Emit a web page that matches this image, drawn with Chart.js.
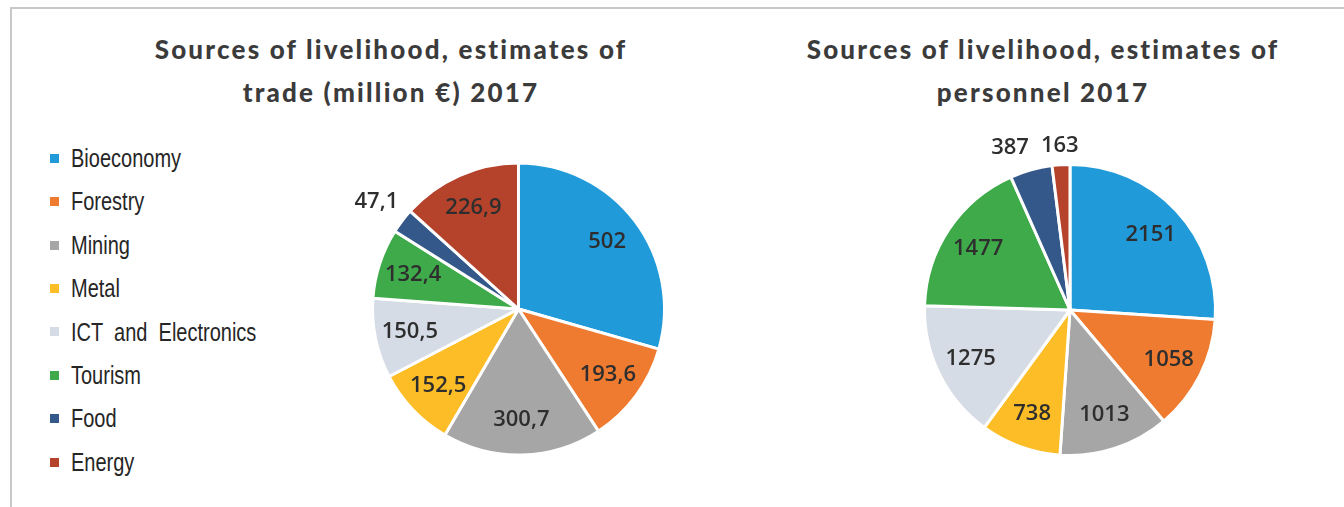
<!DOCTYPE html>
<html>
<head>
<meta charset="utf-8">
<script src="https://cdn.jsdelivr.net/npm/chart.js@4.4.1/dist/chart.umd.min.js"></script>
<style>
  html, body { margin: 0; padding: 0; background: #fff; }
  body { width: 1344px; height: 507px; position: relative; overflow: hidden; }
  #frame {
    position: absolute; left: 10px; top: 7px; width: 1340px; height: 510px;
    border-top: 2px solid #c8c8c8; border-left: 2px solid #c8c8c8;
  }
  .title {
    position: absolute; top: 28px; width: 700px; text-align: center;
    font-family: Lato, "Open Sans", sans-serif; font-weight: 900; font-size: 26px;
    letter-spacing: 2.2px; line-height: 43px; color: #3b3b3b;
  }
  #legend {
    position: absolute; left: 50px; top: 137px; margin: 0; padding: 0; list-style: none;
    font-family: "Liberation Sans", Arial, sans-serif;
    font-size: 25px; color: #262626;
  }
  #legend li { height: 43.4px; line-height: 43.4px; white-space: nowrap; }
  #legend .box {
    display: inline-block; width: 9px; height: 9px; margin-right: 12px; vertical-align: middle;
    position: relative; top: -2px;
  }
  #legend .txt {
    display: inline-block; transform: scaleX(0.8); transform-origin: left center; word-spacing: 7px;
  }
  canvas { position: absolute; top: 0; }
</style>
</head>
<body>
<div id="frame"></div>
<div class="title" style="left: 41px;">Sources of livelihood, estimates of<br>trade (million €) 2017</div>
<div class="title" style="left: 693px;">Sources of livelihood, estimates of<br>personnel 2017</div>
<ul id="legend"></ul>
<canvas id="tradeChart" width="700" height="507" style="left: 0;"></canvas>
<canvas id="staffChart" width="644" height="507" style="left: 700px;"></canvas>
<script>
// Data
const categories = ["Bioeconomy", "Forestry", "Mining", "Metal", "ICT and Electronics", "Tourism", "Food", "Energy"];
const tradeValues = [502, 193.6, 300.7, 152.5, 150.5, 132.4, 47.1, 226.9];
const personnelValues = [2151, 1058, 1013, 738, 1275, 1477, 387, 163];
const sliceColors = ["#209ad9", "#ef7b31", "#a6a6a6", "#fcbd26", "#d6dce6", "#3eaa49", "#35588a", "#b5432c"];

// Legend
const legendEl = document.getElementById("legend");
categories.forEach((name, i) => {
    const li = document.createElement("li");
    li.innerHTML = `<span class="box" style="background:${sliceColors[i]}"></span><span class="txt">${name}</span>`;
    legendEl.appendChild(li);
});

// Value labels: inside for big slices, outside for small ones
const fmt = v => String(v).replace(".", ",");
const valueLabels = {
    id: "valueLabels",
    afterDatasetsDraw(chart) {
        const ctx = chart.ctx;
        const meta = chart.getDatasetMeta(0);
        const data = chart.data.datasets[0].data;
        const total = data.reduce((a, b) => a + b, 0);
        ctx.save();
        ctx.font = "600 22px 'Open Sans', sans-serif";
        ctx.fillStyle = "#2e2e2e";
        ctx.textAlign = "center";
        ctx.textBaseline = "middle";
        const outside = [];
        meta.data.forEach((arc, i) => {
            const p = arc.getProps(["x", "y", "startAngle", "endAngle", "outerRadius"], true);
            const mid = (p.startAngle + p.endAngle) / 2;
            const dx = Math.cos(mid), dy = Math.sin(mid);
            const text = fmt(data[i]);
            const w = ctx.measureText(text).width;
            if (data[i] / total < 0.05) {
                const dist = p.outerRadius + 10 + Math.abs(dx) * w / 2 + Math.abs(dy) * 8;
                outside.push({ text, w, x: p.x + dx * dist, y: p.y + dy * dist });
            } else {
                const dist = p.outerRadius * 0.76;
                ctx.fillText(text, p.x + dx * dist, p.y + dy * dist);
            }
        });
        // push overlapping outside labels apart (later one stays, earlier moves left)
        for (let i = outside.length - 2; i >= 0; i--) {
            const a = outside[i], b = outside[i + 1];
            const gap = (b.x - b.w / 2) - (a.x + a.w / 2);
            if (Math.abs(a.y - b.y) < 22 && gap < 12) a.x -= 12 - gap;
        }
        outside.forEach(l => ctx.fillText(l.text, l.x, l.y));
        ctx.restore();
    }
};

function makePie(id, values, padding) {
    const ctx = document.getElementById(id).getContext("2d");
    return new Chart(ctx, {
        type: "pie",
        data: {
            labels: categories,
            datasets: [{
                data: values,
                backgroundColor: sliceColors,
                borderColor: "#fff",
                borderWidth: 3,
                hoverOffset: 0
            }]
        },
        options: {
            responsive: false,
            animation: false,
            layout: { padding: padding },
            plugins: {
                legend: { display: false },
                title: { display: false },
                tooltip: { enabled: false }
            }
        },
        plugins: [valueLabels]
    });
}

makePie("tradeChart", tradeValues, { left: 371, right: 34, top: 161, bottom: 50 });
makePie("staffChart", personnelValues, { left: 223, right: 127, top: 163, bottom: 50 });
</script>
</body>
</html>
